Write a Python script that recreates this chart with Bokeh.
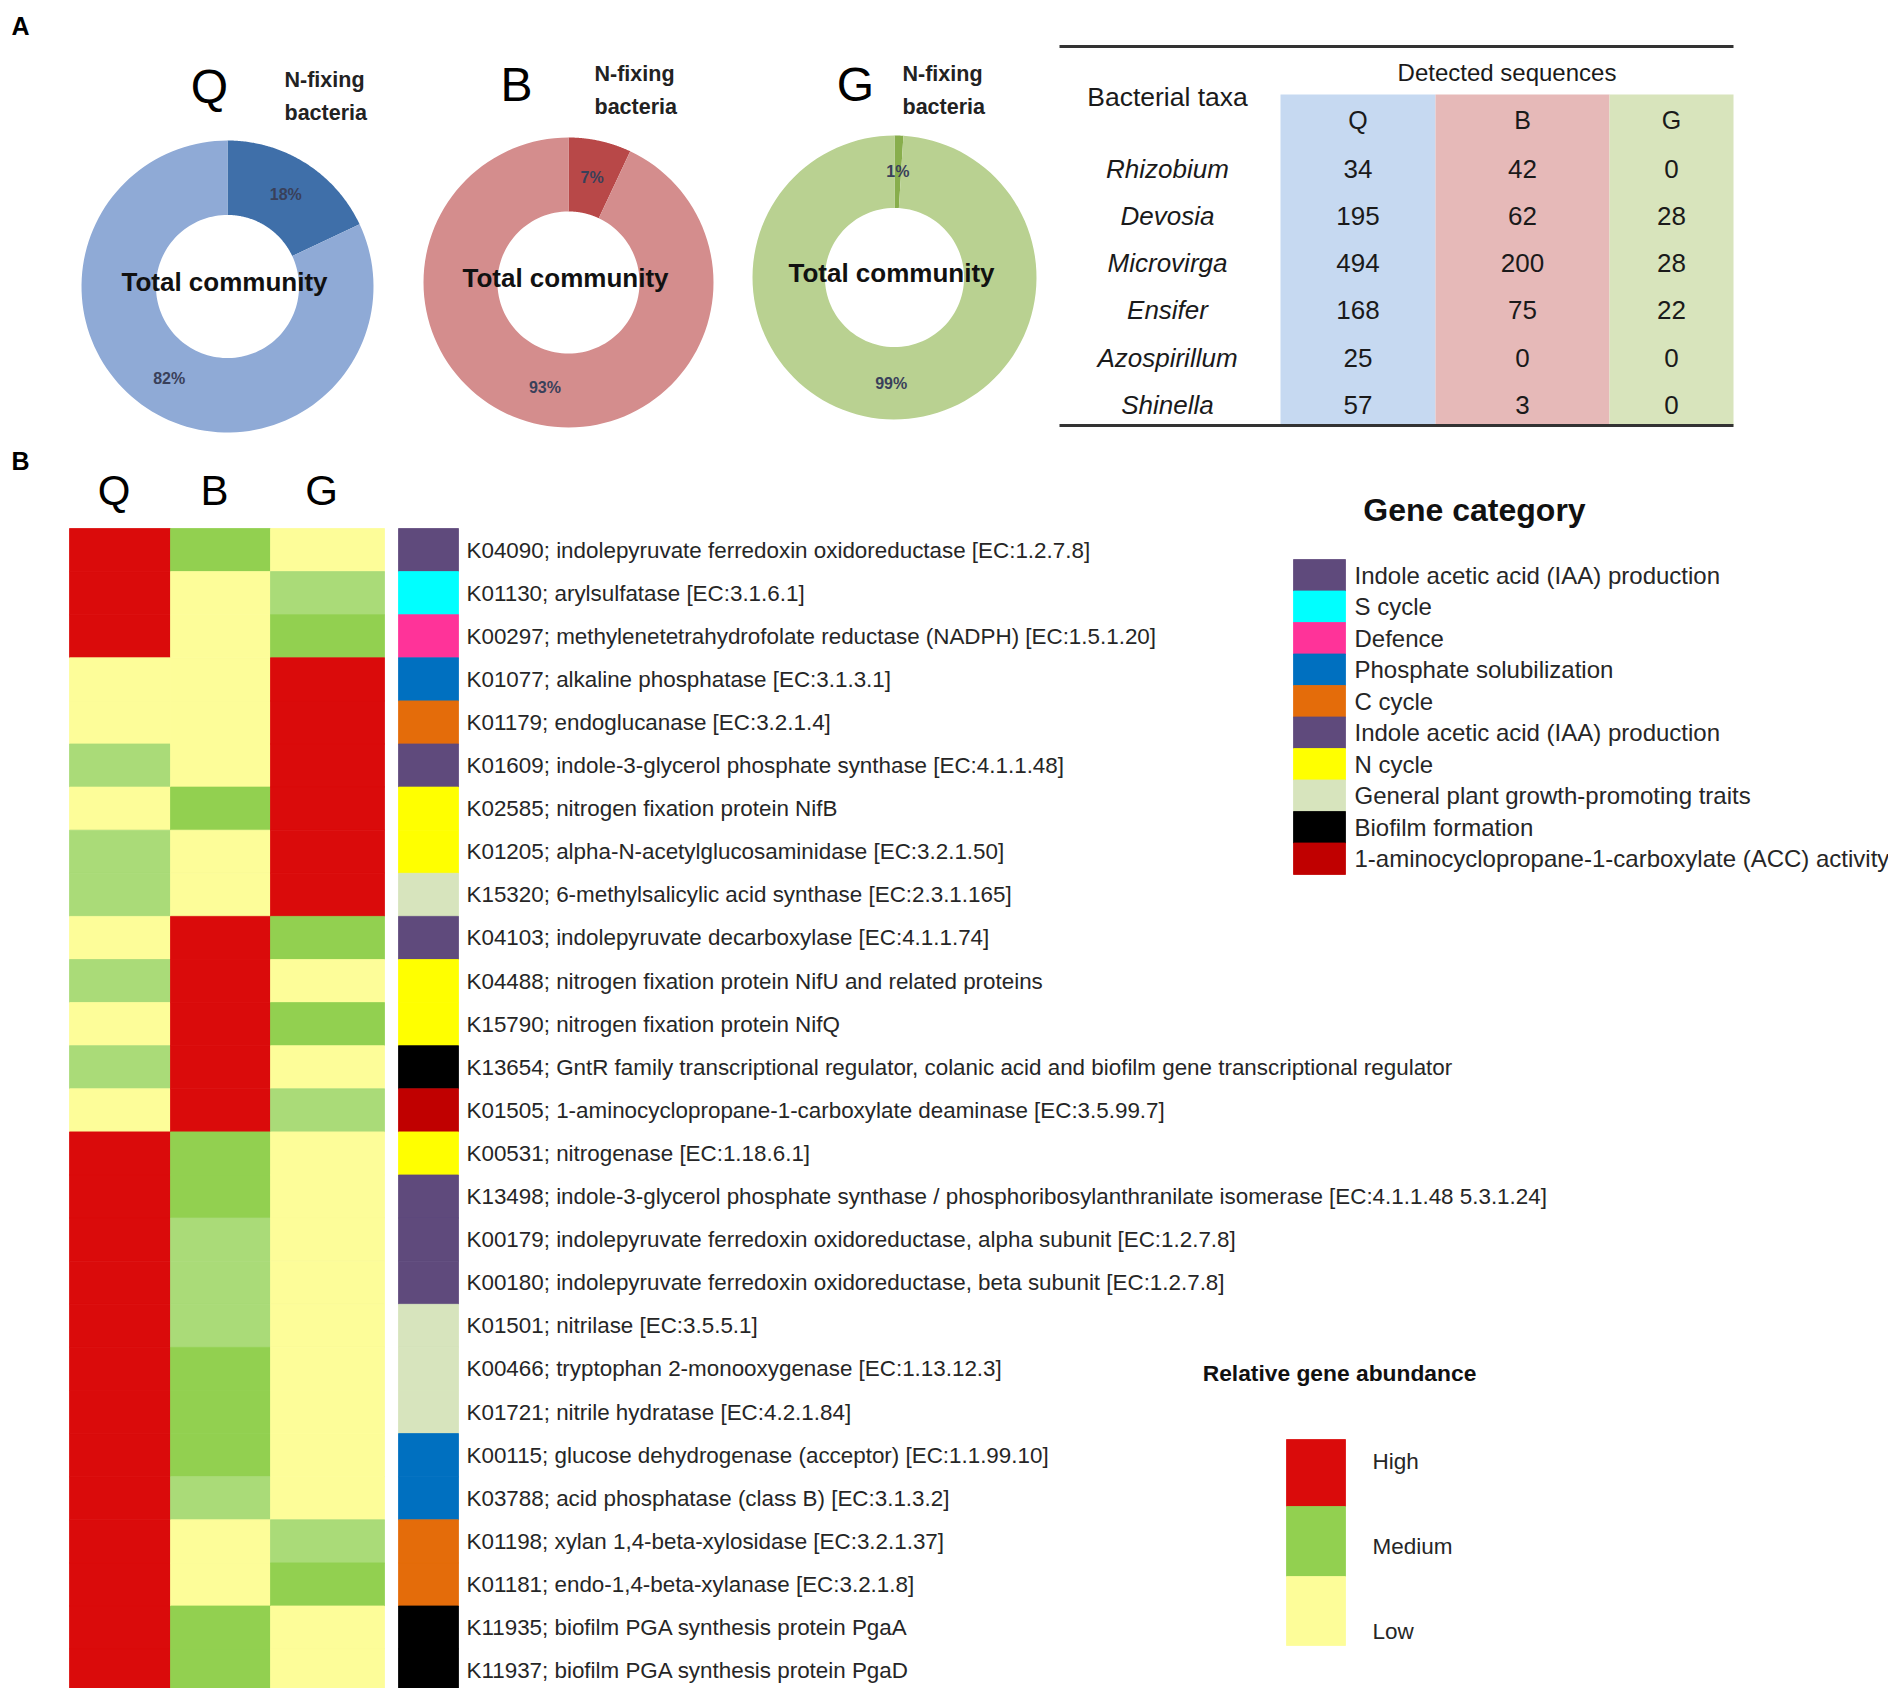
import numpy as np
from bokeh.plotting import figure
from bokeh.models import Range1d, ColumnDataSource
from bokeh.embed import file_html
from bokeh.resources import INLINE
from bokeh.core.properties import value

# ---------------- data : panel A (donuts) ----------------
donut_groups = ["Q", "B", "G"]
nfix_pct = [18, 7, 1]
total_pct = [82, 93, 99]
donut_light = ["#8FAAD6", "#D48D8D", "#B9D191"]
donut_dark = ["#3F6FA9", "#B84848", "#88AE4C"]

# ---------------- data : panel A (table) ----------------
taxa = ["Rhizobium", "Devosia", "Microvirga", "Ensifer", "Azospirillum", "Shinella"]
seq_Q = [34, 195, 494, 168, 25, 57]
seq_B = [42, 62, 200, 75, 0, 3]
seq_G = [0, 28, 28, 22, 0, 0]
table_cols = ["Q", "B", "G"]
table_col_colors = ["#C6D9F1", "#E6B9B8", "#D8E4BC"]

# ---------------- data : panel B (heatmap) ----------------
samples = ["Q", "B", "G"]
genes = [
    "K04090; indolepyruvate ferredoxin oxidoreductase [EC:1.2.7.8]",
    "K01130; arylsulfatase [EC:3.1.6.1]",
    "K00297; methylenetetrahydrofolate reductase (NADPH) [EC:1.5.1.20]",
    "K01077; alkaline phosphatase [EC:3.1.3.1]",
    "K01179; endoglucanase [EC:3.2.1.4]",
    "K01609; indole-3-glycerol phosphate synthase [EC:4.1.1.48]",
    "K02585; nitrogen fixation protein NifB",
    "K01205; alpha-N-acetylglucosaminidase [EC:3.2.1.50]",
    "K15320; 6-methylsalicylic acid synthase [EC:2.3.1.165]",
    "K04103; indolepyruvate decarboxylase [EC:4.1.1.74]",
    "K04488; nitrogen fixation protein NifU and related proteins",
    "K15790; nitrogen fixation protein NifQ",
    "K13654; GntR family transcriptional regulator, colanic acid and biofilm gene transcriptional regulator",
    "K01505; 1-aminocyclopropane-1-carboxylate deaminase [EC:3.5.99.7]",
    "K00531; nitrogenase [EC:1.18.6.1]",
    "K13498; indole-3-glycerol phosphate synthase / phosphoribosylanthranilate isomerase [EC:4.1.1.48 5.3.1.24]",
    "K00179; indolepyruvate ferredoxin oxidoreductase, alpha subunit [EC:1.2.7.8]",
    "K00180; indolepyruvate ferredoxin oxidoreductase, beta subunit [EC:1.2.7.8]",
    "K01501; nitrilase [EC:3.5.5.1]",
    "K00466; tryptophan 2-monooxygenase [EC:1.13.12.3]",
    "K01721; nitrile hydratase [EC:4.2.1.84]",
    "K00115; glucose dehydrogenase (acceptor) [EC:1.1.99.10]",
    "K03788; acid phosphatase (class B) [EC:3.1.3.2]",
    "K01198; xylan 1,4-beta-xylosidase [EC:3.2.1.37]",
    "K01181; endo-1,4-beta-xylanase [EC:3.2.1.8]",
    "K11935; biofilm PGA synthesis protein PgaA",
    "K11937; biofilm PGA synthesis protein PgaD",
]
gene_cat = ["IAA", "S", "Def", "P", "C", "IAA", "N", "N", "PGP", "IAA", "N", "N", "Bio", "ACC",
            "N", "IAA", "IAA", "IAA", "PGP", "PGP", "PGP", "P", "P", "C", "C", "Bio", "Bio"]
# abundance level: 3 = high, 2 = medium, 1 = medium-low, 0 = low
abund_Q = [3, 3, 3, 0, 0, 1, 0, 1, 1, 0, 1, 0, 1, 0, 3, 3, 3, 3, 3, 3, 3, 3, 3, 3, 3, 3, 3]
abund_B = [2, 0, 0, 0, 0, 0, 2, 0, 0, 3, 3, 3, 3, 3, 2, 2, 1, 1, 1, 2, 2, 2, 1, 0, 0, 2, 2]
abund_G = [0, 1, 2, 3, 3, 3, 3, 3, 3, 2, 0, 2, 0, 1, 0, 0, 0, 0, 0, 0, 0, 0, 0, 1, 2, 0, 0]
abund_palette = ["#FDFD99", "#AADB78", "#92D050", "#DA0B0B"]

cat_colors = {"IAA": "#5F4A7C", "S": "#00FFFF", "Def": "#FF3399", "P": "#0070C0",
              "C": "#E46C0A", "N": "#FFFF00", "PGP": "#D7E4BD", "Bio": "#000000",
              "ACC": "#C00000"}
legend_keys = ["IAA", "S", "Def", "P", "C", "IAA", "N", "PGP", "Bio", "ACC"]
legend_labels = ["Indole acetic acid (IAA) production", "S cycle", "Defence",
                 "Phosphate solubilization", "C cycle", "Indole acetic acid (IAA) production",
                 "N cycle", "General plant growth-promoting traits", "Biofilm formation",
                 "1-aminocyclopropane-1-carboxylate (ACC) activity"]
abund_legend_labels = ["High", "Medium", "Low"]
abund_legend_levels = [3, 2, 0]

# ---------------- figure (page pixel coordinates) ----------------
W, H = 1888, 1688
p = figure(width=W, height=H, output_backend="svg", toolbar_location=None,
           x_axis_location=None, y_axis_location=None,
           x_range=Range1d(0, W), y_range=Range1d(H, 0),
           min_border=0, outline_line_color=None, background_fill_color="white")
p.grid.visible = False

FONT = value("Liberation Sans")


def txt(x, y, t, size, align="left", style="normal", color="#1a1a1a", baseline="middle"):
    src = ColumnDataSource(dict(x=list(x), y=list(y), t=list(t)))
    p.text(x="x", y="y", text="t", source=src, text_font=FONT, text_font_size=value(size),
           text_align=align, text_baseline=baseline, text_font_style=style, text_color=color)


# ---------------- panel labels ----------------
txt([11], [25], ["A"], "25px", style="bold", color="black")
txt([11], [460], ["B"], "25px", style="bold", color="black")

# ---------------- donuts ----------------
donut_cx = [227, 568, 894]
donut_cy = [286, 282, 277]
r_out_list = [146, 145, 142]
ratio_in = 0.49
title_x = [209, 516, 855]
title_y = [86, 84, 84]
nfix_x = [284, 594, 902]
nfix_y = [79, 73, 73]


def ring_patch(cx, cy, r_in, r_out, f0, f1):
    t = np.linspace(f0, f1, 120) * 2 * np.pi
    xo = cx + r_out * np.sin(t)
    yo = cy - r_out * np.cos(t)
    xi = cx + r_in * np.sin(t[::-1])
    yi = cy - r_in * np.cos(t[::-1])
    return list(np.concatenate([xo, xi])), list(np.concatenate([yo, yi]))


for i, g in enumerate(donut_groups):
    cx, cy, ro = donut_cx[i], donut_cy[i], r_out_list[i]
    ri = ro * ratio_in
    fr_n = nfix_pct[i] / (nfix_pct[i] + total_pct[i])
    xs, ys, cols = [], [], []
    for (f0, f1, c) in [(0, fr_n, donut_dark[i]), (fr_n, 1.0, donut_light[i])]:
        x, y = ring_patch(cx, cy, ri, ro, f0, f1)
        xs.append(x); ys.append(y); cols.append(c)
    p.patches(xs=xs, ys=ys, fill_color=cols, line_color=None)
    # percentage labels at mid-angle
    rm = (ri + ro) / 2
    mids = [fr_n / 2, fr_n + (1 - fr_n) / 2]
    pcts = [nfix_pct[i], total_pct[i]]
    lx = [cx + rm * np.sin(m * 2 * np.pi) for m in mids]
    ly = [cy - rm * np.cos(m * 2 * np.pi) for m in mids]
    txt(lx, ly, [f"{v}%" for v in pcts], "16px", align="center", style="bold", color="#39405A")
    txt([cx - 3], [cy - 5], ["Total community"], "26px", align="center", style="bold", color="#111111")
    # titles
    txt([title_x[i]], [title_y[i]], [g], "48px", align="center", color="black")
    txt([nfix_x[i]], [nfix_y[i]], ["N-fixing"], "21.5px", style="bold", color="#222222")
    txt([nfix_x[i]], [nfix_y[i] + 33], ["bacteria"], "21.5px", style="bold", color="#222222")

# ---------------- table ----------------
tab_left, tab_right = 1059, 1733
col_edges = [1280, 1435, 1609, 1733]
band_top, band_bottom = 94, 425
row_y0, row_dy = 168, 47.3
p.quad(left=col_edges[:-1], right=col_edges[1:], top=[band_top] * 3, bottom=[band_bottom] * 3,
       fill_color=table_col_colors, line_color=None)
p.segment(x0=[tab_left, tab_left], x1=[tab_right, tab_right], y0=[46, 425], y1=[46, 425],
          line_color="#333333", line_width=3)
col_centers = [(col_edges[k] + col_edges[k + 1]) / 2 for k in range(3)]
txt([(col_edges[0] + col_edges[3]) / 2], [72], ["Detected sequences"], "24px", align="center")
txt([1167], [96], ["Bacterial taxa"], "26.5px", align="center")
txt(col_centers, [119] * 3, table_cols, "25px", align="center")
ry = [row_y0 + k * row_dy for k in range(len(taxa))]
txt([1167] * len(taxa), ry, taxa, "26px", align="center", style="italic")
for k, vals in enumerate([seq_Q, seq_B, seq_G]):
    txt([col_centers[k]] * len(vals), ry, [str(v) for v in vals], "26px", align="center")

# ---------------- heatmap ----------------
hm_edges = [69, 170, 270, 384]
hm_top, hm_rh = 528, 43.1
n = len(genes)
lefts, rights, tops, bottoms, colors = [], [], [], [], []
for j, col in enumerate([abund_Q, abund_B, abund_G]):
    for i, v in enumerate(col):
        lefts.append(hm_edges[j]); rights.append(hm_edges[j + 1])
        tops.append(hm_top + i * hm_rh); bottoms.append(hm_top + (i + 1) * hm_rh)
        colors.append(abund_palette[v])
p.quad(left=lefts, right=rights, top=tops, bottom=bottoms, fill_color=colors,
       line_color=colors, line_width=0.8)
hcx = [(hm_edges[j] + hm_edges[j + 1]) / 2 - 6 for j in range(3)]
txt(hcx, [490] * 3, samples, "42px", align="center", color="black")

# category bar
cb_left, cb_right = 398, 458
bar_cols = [cat_colors[c] for c in gene_cat]
p.quad(left=[cb_left] * n, right=[cb_right] * n,
       top=[hm_top + i * hm_rh for i in range(n)],
       bottom=[hm_top + (i + 1) * hm_rh for i in range(n)],
       fill_color=bar_cols, line_color=bar_cols, line_width=0.8)
txt([466] * n, [hm_top + (i + 0.5) * hm_rh for i in range(n)], genes, "22.4px", color="#262626")

# ---------------- gene category legend ----------------
txt([1474], [509], ["Gene category"], "32px", align="center", style="bold", color="#111111")
lg_top, lg_h = 559, 31.5
m = len(legend_keys)
lg_cols = [cat_colors[k] for k in legend_keys]
p.quad(left=[1293] * m, right=[1345] * m,
       top=[lg_top + i * lg_h for i in range(m)],
       bottom=[lg_top + (i + 1) * lg_h for i in range(m)],
       fill_color=lg_cols, line_color=lg_cols, line_width=0.8)
txt([1354] * m, [lg_top + (i + 0.5) * lg_h for i in range(m)], legend_labels, "24px", color="#262626")

# ---------------- abundance legend ----------------
txt([1339], [1372], ["Relative gene abundance"], "22.8px", align="center", style="bold", color="#111111")
ab_edges = [1439, 1506, 1576, 1645]
ab_cols = [abund_palette[v] for v in abund_legend_levels]
p.quad(left=[1286] * 3, right=[1345] * 3, top=ab_edges[:-1], bottom=ab_edges[1:],
       fill_color=ab_cols, line_color=ab_cols, line_width=0.8)
txt([1372] * 3, [1461, 1546, 1631], abund_legend_labels, "22.5px", color="#262626")

open("out.html", "w").write(file_html(p, INLINE))
